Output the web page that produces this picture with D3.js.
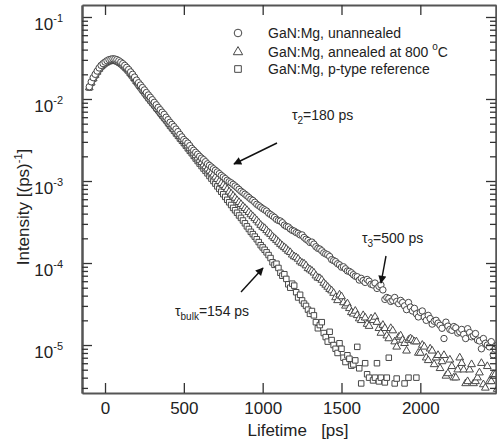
<!DOCTYPE html>
<html>
<head>
<meta charset="utf-8">
<script src="https://cdn.jsdelivr.net/npm/d3@7"></script>
<style>
  body { margin: 0; background: #fff; }
  svg { font-family: "Liberation Sans", Arial, sans-serif; }
</style>
</head>
<body>
<svg id="chart" width="497" height="440"></svg>
<script>
// channel times (ps), 12.5 ps per channel, one row = 100 ps
var times = [
  -100, -87.5, -75, -62.5, -50, -37.5, -25, -12.5,
  0, 12.5, 25, 37.5, 50, 62.5, 75, 87.5,
  100, 112.5, 125, 137.5, 150, 162.5, 175, 187.5,
  200, 212.5, 225, 237.5, 250, 262.5, 275, 287.5,
  300, 312.5, 325, 337.5, 350, 362.5, 375, 387.5,
  400, 412.5, 425, 437.5, 450, 462.5, 475, 487.5,
  500, 512.5, 525, 537.5, 550, 562.5, 575, 587.5,
  600, 612.5, 625, 637.5, 650, 662.5, 675, 687.5,
  700, 712.5, 725, 737.5, 750, 762.5, 775, 787.5,
  800, 812.5, 825, 837.5, 850, 862.5, 875, 887.5,
  900, 912.5, 925, 937.5, 950, 962.5, 975, 987.5,
  1000, 1012.5, 1025, 1037.5, 1050, 1062.5, 1075, 1087.5,
  1100, 1112.5, 1125, 1137.5, 1150, 1162.5, 1175, 1187.5,
  1200, 1212.5, 1225, 1237.5, 1250, 1262.5, 1275, 1287.5,
  1300, 1312.5, 1325, 1337.5, 1350, 1362.5, 1375, 1387.5,
  1400, 1412.5, 1425, 1437.5, 1450, 1462.5, 1475, 1487.5,
  1500, 1512.5, 1525, 1537.5, 1550, 1562.5, 1575, 1587.5,
  1600, 1612.5, 1625, 1637.5, 1650, 1662.5, 1675, 1687.5,
  1700, 1712.5, 1725, 1737.5, 1750, 1762.5, 1775, 1787.5,
  1800, 1812.5, 1825, 1837.5, 1850, 1862.5, 1875, 1887.5,
  1900, 1912.5, 1925, 1937.5, 1950, 1962.5, 1975, 1987.5,
  2000, 2012.5, 2025, 2037.5, 2050, 2062.5, 2075, 2087.5,
  2100, 2112.5, 2125, 2137.5, 2150, 2162.5, 2175, 2187.5,
  2200, 2212.5, 2225, 2237.5, 2250, 2262.5, 2275, 2287.5,
  2300, 2312.5, 2325, 2337.5, 2350, 2362.5, 2375, 2387.5,
  2400, 2412.5, 2425, 2437.5, 2450, 2462.5, 2475, 2487.5
];

// GaN:Mg, unannealed
var unannealed = [
  1.41e-2, 1.62e-2, 1.82e-2, 2.0e-2, 2.19e-2, 2.39e-2, 2.57e-2, 2.7e-2,
  2.82e-2, 2.93e-2, 3.02e-2, 3.06e-2, 3.09e-2, 3.07e-2, 3.02e-2, 2.93e-2,
  2.82e-2, 2.7e-2, 2.57e-2, 2.43e-2, 2.29e-2, 2.14e-2, 2.0e-2, 1.85e-2,
  1.7e-2, 1.58e-2, 1.48e-2, 1.38e-2, 1.29e-2, 1.2e-2, 1.12e-2, 1.05e-2,
  9.8e-3, 9.1e-3, 8.5e-3, 7.9e-3, 7.4e-3, 6.9e-3, 6.5e-3, 6.0e-3,
  5.6e-3, 5.2e-3, 4.9e-3, 4.6e-3, 4.3e-3, 4.0e-3, 3.7e-3, 3.45e-3,
  3.2e-3, 3.05e-3, 2.9e-3, 2.7e-3, 2.5e-3, 2.37e-3, 2.24e-3, 2.12e-3,
  2.0e-3, 1.9e-3, 1.82e-3, 1.72e-3, 1.62e-3, 1.55e-3, 1.48e-3, 1.41e-3,
  1.35e-3, 1.29e-3, 1.23e-3, 1.17e-3, 1.12e-3, 1.07e-3, 1.02e-3, 9.8e-4,
  9.5e-4, 9.1e-4, 8.7e-4, 8.3e-4, 7.9e-4, 7.5e-4, 7.2e-4, 6.9e-4,
  6.6e-4, 6.3e-4, 6.0e-4, 5.8e-4, 5.5e-4, 5.2e-4, 5.0e-4, 4.8e-4,
  4.6e-4, 4.45e-4, 4.3e-4, 4.05e-4, 3.9e-4, 3.75e-4, 3.6e-4, 3.4e-4,
  3.3e-4, 3.25e-4, 3.1e-4, 2.9e-4, 2.8e-4, 2.75e-4, 2.6e-4, 2.5e-4,
  2.45e-4, 2.35e-4, 2.3e-4, 2.2e-4, 2.2e-4, 2.05e-4, 1.95e-4, 1.88e-4,
  1.78e-4, 1.8e-4, 1.7e-4, 1.58e-4, 1.51e-4, 1.48e-4, 1.41e-4, 1.33e-4,
  1.29e-4, 1.26e-4, 1.2e-4, 1.1e-4, 1.07e-4, 1.04e-4, 9.8e-5, 9.5e-5,
  8.9e-5, 9.0e-5, 8.5e-5, 8.0e-5, 7.9e-5, 7.6e-5, 7.2e-5, 6.9e-5,
  6.8e-5, 6.2e-5, 6.5e-5, 6.1e-5, 5.8e-5, 6.3e-5, 6.0e-5, 5.5e-5,
  5.4e-5, 5.7e-5, 4.9e-5, 5.2e-5, 5.4e-5, 4.7e-5, 3.6e-5, 3.8e-5,
  3.7e-5, 3.4e-5, 3.5e-5, 3.8e-5, 3.4e-5, 3.2e-5, 3.5e-5, 3.3e-5,
  3.0e-5, 2.7e-5, 3.3e-5, 2.9e-5, 2.6e-5, 2.8e-5, 2.4e-5, 2.2e-5,
  2.5e-5, 2.6e-5, 2.2e-5, 2.0e-5, 2.3e-5, 2.1e-5, 1.8e-5, 1.95e-5,
  2.0e-5, 1.85e-5, 1.74e-5, 1.6e-5, 1.2e-5, 1.9e-5, 1.7e-5, 1.55e-5,
  1.51e-5, 1.68e-5, 1.62e-5, 1.4e-5, 1.45e-5, 1.55e-5, 1.35e-5, 1.2e-5,
  1.58e-5, 1.42e-5, 1.26e-5, 1.3e-5, 1.38e-5, 1.15e-5, 1.12e-5, 9.0e-6,
  1.2e-5, 1.05e-5, 1.0e-5, 9.5e-6, 1.1e-5, 7.6e-6, 8.9e-6, 1.0e-5
];

// GaN:Mg, annealed at 800 C
var annealed = [
  1.38e-2, 1.58e-2, 1.78e-2, 1.96e-2, 2.14e-2, 2.33e-2, 2.5e-2, 2.63e-2,
  2.75e-2, 2.85e-2, 2.92e-2, 2.96e-2, 2.98e-2, 2.96e-2, 2.92e-2, 2.84e-2,
  2.74e-2, 2.62e-2, 2.49e-2, 2.36e-2, 2.22e-2, 2.07e-2, 1.93e-2, 1.79e-2,
  1.65e-2, 1.54e-2, 1.43e-2, 1.33e-2, 1.24e-2, 1.15e-2, 1.07e-2, 1.0e-2,
  9.3e-3, 8.7e-3, 8.1e-3, 7.5e-3, 7.0e-3, 6.5e-3, 6.1e-3, 5.7e-3,
  5.3e-3, 4.9e-3, 4.6e-3, 4.3e-3, 4.0e-3, 3.75e-3, 3.5e-3, 3.25e-3,
  3.05e-3, 2.87e-3, 2.7e-3, 2.52e-3, 2.35e-3, 2.2e-3, 2.05e-3, 1.92e-3,
  1.8e-3, 1.69e-3, 1.58e-3, 1.5e-3, 1.41e-3, 1.33e-3, 1.26e-3, 1.19e-3,
  1.12e-3, 1.05e-3, 9.9e-4, 9.4e-4, 8.9e-4, 8.4e-4, 7.9e-4, 7.4e-4,
  7.0e-4, 6.6e-4, 6.2e-4, 5.8e-4, 5.5e-4, 5.2e-4, 4.9e-4, 4.65e-4,
  4.4e-4, 4.15e-4, 3.9e-4, 3.7e-4, 3.5e-4, 3.3e-4, 3.1e-4, 2.9e-4,
  2.75e-4, 2.65e-4, 2.5e-4, 2.35e-4, 2.25e-4, 2.1e-4, 2.0e-4, 1.9e-4,
  1.8e-4, 1.7e-4, 1.62e-4, 1.55e-4, 1.48e-4, 1.4e-4, 1.35e-4, 1.26e-4,
  1.2e-4, 1.17e-4, 1.12e-4, 1.04e-4, 1.0e-4, 9.8e-5, 9.3e-5, 8.6e-5,
  8.3e-5, 8.0e-5, 7.6e-5, 7.0e-5, 6.6e-5, 6.5e-5, 6.2e-5, 5.7e-5,
  5.4e-5, 5.1e-5, 4.8e-5, 4.6e-5, 4.3e-5, 3.8e-5, 3.5e-5, 4.1e-5,
  3.9e-5, 3.3e-5, 3.0e-5, 3.2e-5, 2.8e-5, 2.5e-5, 2.4e-5, 2.6e-5,
  2.3e-5, 2.1e-5, 2.0e-5, 2.3e-5, 2.15e-5, 1.8e-5, 1.7e-5, 2.1e-5,
  2.0e-5, 2.2e-5, 1.9e-5, 1.6e-5, 1.4e-5, 1.75e-5, 1.6e-5, 1.3e-5,
  1.2e-5, 1.6e-5, 1.5e-5, 1.1e-5, 9.5e-6, 1.25e-5, 1.3e-5, 1.15e-5,
  1.05e-5, 8.5e-6, 1.15e-5, 1.2e-5, 1.15e-5, 1.1e-5, 1.1e-5, 8.0e-6,
  8.0e-6, 1.0e-5, 9.5e-6, 7.0e-6, 6.5e-6, 9.0e-6, 8.5e-6, 5.8e-6,
  7.0e-6, 7.5e-6, 5.2e-6, 6.3e-6, 7.5e-6, 4.2e-6, 4.5e-6, 6.6e-6,
  5.5e-6, 4.0e-6, 4.0e-6, 5.0e-6, 7.0e-6, 6.0e-6, 5.0e-6, 3.4e-6,
  3.6e-6, 5.0e-6, 5.8e-6, 3.4e-6, 3.6e-6, 4.0e-6, 4.6e-6, 6.0e-6,
  3.3e-6, 3.0e-6, 5.5e-6, 3.6e-6, 3.6e-6, 4.4e-6, 4.4e-6, 2.9e-6
];

// GaN:Mg, p-type reference (null = no counts / below the axis)
var reference = [
  1.38e-2, 1.57e-2, 1.76e-2, 1.94e-2, 2.12e-2, 2.31e-2, 2.48e-2, 2.61e-2,
  2.72e-2, 2.81e-2, 2.88e-2, 2.92e-2, 2.94e-2, 2.92e-2, 2.88e-2, 2.8e-2,
  2.7e-2, 2.58e-2, 2.45e-2, 2.32e-2, 2.18e-2, 2.03e-2, 1.89e-2, 1.75e-2,
  1.62e-2, 1.5e-2, 1.39e-2, 1.29e-2, 1.2e-2, 1.11e-2, 1.03e-2, 9.6e-3,
  9.0e-3, 8.4e-3, 7.8e-3, 7.3e-3, 6.8e-3, 6.3e-3, 5.9e-3, 5.5e-3,
  5.1e-3, 4.7e-3, 4.4e-3, 4.1e-3, 3.8e-3, 3.55e-3, 3.3e-3, 3.1e-3,
  2.9e-3, 2.7e-3, 2.5e-3, 2.33e-3, 2.18e-3, 2.02e-3, 1.88e-3, 1.75e-3,
  1.63e-3, 1.52e-3, 1.42e-3, 1.33e-3, 1.24e-3, 1.15e-3, 1.07e-3, 1.0e-3,
  9.3e-4, 8.6e-4, 8.0e-4, 7.4e-4, 6.9e-4, 6.4e-4, 5.9e-4, 5.5e-4,
  5.1e-4, 4.7e-4, 4.4e-4, 4.1e-4, 3.8e-4, 3.55e-4, 3.3e-4, 3.05e-4,
  2.8e-4, 2.6e-4, 2.4e-4, 2.25e-4, 2.1e-4, 1.95e-4, 1.8e-4, 1.65e-4,
  1.55e-4, 1.45e-4, 1.35e-4, 1.25e-4, 1.15e-4, 1.02e-4, 9.5e-5, 9.8e-5,
  8.7e-5, 7.6e-5, 7.0e-5, 7.3e-5, 6.4e-5, 5.5e-5, 5.0e-5, 5.6e-5,
  5.3e-5, 4.4e-5, 3.8e-5, 4.1e-5, 3.5e-5, 3.2e-5, 3.0e-5, 2.7e-5,
  2.4e-5, 2.6e-5, 2.3e-5, 1.9e-5, 1.6e-5, 1.75e-5, 1.9e-5, 1.4e-5,
  1.25e-5, 1.1e-5, 1.45e-5, 1.15e-5, 1.0e-5, 9.0e-6, 8.0e-6, 1.05e-5,
  9.0e-6, 7.0e-6, 6.2e-6, 7.5e-6, 6.8e-6, 5.6e-6, 5.8e-6, 6.5e-6,
  9.5e-6, 5.2e-6, 3.4e-6, null, 6.0e-6, 4.4e-6, 4.0e-6, null,
  3.7e-6, 4.0e-6, 6.0e-6, 3.6e-6, 4.0e-6, null, 3.5e-6, 4.0e-6,
  7.0e-6, null, null, 3.4e-6, 3.9e-6, null, null, null,
  3.4e-6, null, 4.0e-6, null, null, null, 4.0e-6, null,
  null, null, null, null, null, null, null, null,
  null, null, null, null, null, null, null, null,
  null, null, null, null, null, null, null, null,
  null, null, null, null, null, null, null, null,
  null, null, null, null, null, null, null, null
];

var xTicks = [0, 500, 1000, 1500, 2000];
var yTicks = [1e-1, 1e-2, 1e-3, 1e-4, 1e-5];
var yExponents = ["-1", "-2", "-3", "-4", "-5"];

var legendLabels = ["GaN:Mg, unannealed", "GaN:Mg, annealed at 800 ", "GaN:Mg, p-type reference"];

var svg = d3.select("#chart");

var plotLeft = 82, plotRight = 496, plotTop = 5, plotBottom = 393;

var x = d3.scaleLinear().domain([-146, 2480]).range([plotLeft, plotRight]);
var y = d3.scaleLog().domain([2.6e-6, 0.14]).range([plotBottom, plotTop]);

var axisColor = "#555";
var markColor = "#484848";

// minor ticks 2..9 per decade
var minor = [];
[-6, -5, -4, -3, -2, -1].forEach(function (e) {
  for (var m = 2; m <= 9; m++) {
    var v = m * Math.pow(10, e);
    if (v > 2.6e-6 && v < 0.14) minor.push(v);
  }
});

function styleAxis(g) {
  g.select(".domain").attr("stroke", axisColor).attr("stroke-width", 2);
  g.selectAll(".tick line").attr("stroke", "#333").attr("stroke-width", 1.3);
}

// markers first, axes on top
svg.append("clipPath").attr("id", "clip")
  .append("rect").attr("x", plotLeft).attr("y", plotTop)
  .attr("width", plotRight - plotLeft).attr("height", plotBottom - plotTop);

var plot = svg.append("g").attr("clip-path", "url(#clip)");

var triPath = d3.symbol().type(d3.symbolTriangle).size(26);
var sqPath = d3.symbol().type(d3.symbolSquare).size(30);

function points(vals) {
  var out = [];
  vals.forEach(function (v, i) {
    if (v != null) out.push({ t: times[i], v: v });
  });
  return out;
}

plot.append("g").selectAll("path")
  .data(points(reference))
  .join("path")
  .attr("d", sqPath)
  .attr("transform", function (d) { return "translate(" + x(d.t) + "," + y(d.v) + ")"; })
  .attr("fill", "#fff").attr("stroke", markColor).attr("stroke-width", 1);

plot.append("g").selectAll("path")
  .data(points(annealed))
  .join("path")
  .attr("d", triPath)
  .attr("transform", function (d) { return "translate(" + x(d.t) + "," + y(d.v) + ")"; })
  .attr("fill", "#fff").attr("stroke", markColor).attr("stroke-width", 1);

plot.append("g").selectAll("circle")
  .data(points(unannealed))
  .join("circle")
  .attr("cx", function (d) { return x(d.t); })
  .attr("cy", function (d) { return y(d.v); })
  .attr("r", 3.2)
  .attr("fill", "#fff").attr("stroke", markColor).attr("stroke-width", 1);

// bottom
svg.append("g")
  .attr("transform", "translate(0," + plotBottom + ")")
  .call(d3.axisBottom(x).tickValues(xTicks).tickSize(-10).tickSizeOuter(0).tickPadding(9)
    .tickFormat(d3.format("d")))
  .call(styleAxis)
  .call(function (g) {
    g.selectAll(".tick text").attr("font-size", 17).attr("fill", "#222")
      .attr("font-family", "Liberation Sans, Arial, sans-serif");
  });

// top
svg.append("g")
  .attr("transform", "translate(0," + plotTop + ")")
  .call(d3.axisTop(x).tickValues(xTicks).tickSize(-10).tickSizeOuter(0).tickFormat(""))
  .call(styleAxis);

// left major
var yl = svg.append("g")
  .attr("transform", "translate(" + plotLeft + ",0)")
  .call(d3.axisLeft(y).tickValues(yTicks).tickSize(-10).tickSizeOuter(0).tickPadding(10)
    .tickFormat(function () { return "10"; }))
  .call(styleAxis);

yl.selectAll(".tick text")
  .attr("font-size", 17).attr("fill", "#222")
  .attr("font-family", "Liberation Sans, Arial, sans-serif")
  .attr("dy", "0.75em")
  .attr("x", -19)
  .each(function (d, i) {
    d3.select(this).append("tspan")
      .attr("font-size", 11)
      .attr("dy", "-0.75em")
      .text(yExponents[i]);
  });

// left minor
svg.append("g")
  .attr("transform", "translate(" + plotLeft + ",0)")
  .call(d3.axisLeft(y).tickValues(minor).tickSize(-6).tickSizeOuter(0).tickFormat(""))
  .call(styleAxis);

// right major + minor
svg.append("g")
  .attr("transform", "translate(" + plotRight + ",0)")
  .call(d3.axisRight(y).tickValues(yTicks).tickSize(-10).tickSizeOuter(0).tickFormat(""))
  .call(styleAxis);
svg.append("g")
  .attr("transform", "translate(" + plotRight + ",0)")
  .call(d3.axisRight(y).tickValues(minor).tickSize(-6).tickSizeOuter(0).tickFormat(""))
  .call(styleAxis);

// axis titles
svg.append("text")
  .attr("x", 298).attr("y", 436)
  .attr("text-anchor", "middle")
  .attr("font-size", 17).attr("fill", "#222")
  .style("white-space", "pre")
  .text("Lifetime   [ps]");

var yt = svg.append("text")
  .attr("transform", "translate(29,207) rotate(-90)")
  .attr("text-anchor", "middle")
  .attr("font-size", 17).attr("fill", "#222");
yt.append("tspan").text("Intensity [(ps)");
yt.append("tspan").attr("font-size", 11).attr("dy", -7).text("-1");
yt.append("tspan").attr("dy", 7).text("]");

// legend
var legend = svg.append("g");
var legY = [33, 52, 69];
legend.append("circle").attr("cx", 238).attr("cy", legY[0]).attr("r", 3.8)
  .attr("fill", "none").attr("stroke", markColor).attr("stroke-width", 1);
legend.append("path").attr("d", d3.symbol().type(d3.symbolTriangle).size(38))
  .attr("transform", "translate(238," + legY[1] + ")")
  .attr("fill", "none").attr("stroke", markColor).attr("stroke-width", 1);
legend.append("path").attr("d", d3.symbol().type(d3.symbolSquare).size(44))
  .attr("transform", "translate(238," + legY[2] + ")")
  .attr("fill", "none").attr("stroke", markColor).attr("stroke-width", 1);

legendLabels.forEach(function (s, i) {
  var t = legend.append("text")
    .attr("x", 268).attr("y", legY[i] + 5)
    .attr("font-size", 14).attr("fill", "#222")
    .style("white-space", "pre")
    .text(s);
  if (i === 1) {
    t.append("tspan").attr("font-size", 10).attr("dy", -7).text("o");
    t.append("tspan").attr("dy", 7).text("C");
  }
});

// annotations
svg.append("defs").append("marker")
  .attr("id", "head").attr("viewBox", "0 0 10 10")
  .attr("refX", 9).attr("refY", 5)
  .attr("markerWidth", 11).attr("markerHeight", 8)
  .attr("markerUnits", "userSpaceOnUse")
  .attr("orient", "auto")
  .append("path").attr("d", "M0,0L10,5L0,10z").attr("fill", "#111");

function arrow(x1, y1, x2, y2) {
  svg.append("line")
    .attr("x1", x1).attr("y1", y1).attr("x2", x2).attr("y2", y2)
    .attr("stroke", "#111").attr("stroke-width", 1.4)
    .attr("marker-end", "url(#head)");
}

function tauLabel(px, py, sub, rest) {
  var t = svg.append("text").attr("x", px).attr("y", py)
    .attr("font-size", 14).attr("fill", "#222");
  t.append("tspan").text("\u03C4");
  t.append("tspan").attr("font-size", 10).attr("dy", 4).text(sub);
  t.append("tspan").attr("dy", -4).text(rest);
}

tauLabel(292, 120, "2", "=180 ps");
arrow(277, 143, 234, 164);

tauLabel(362, 243, "3", "=500 ps");
arrow(386, 256, 381, 283);

tauLabel(175, 316, "bulk", "=154 ps");
arrow(241, 292, 263, 268);
</script>
</body>
</html>
